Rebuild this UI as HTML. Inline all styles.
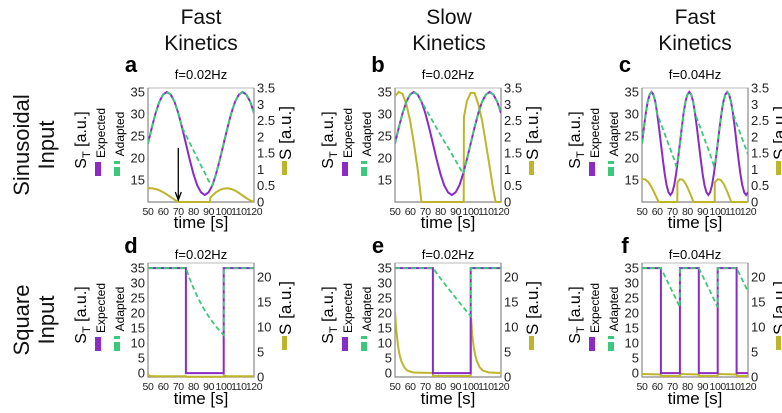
<!DOCTYPE html>
<html><head><meta charset="utf-8">
<style>
html,body{margin:0;padding:0;background:#fff;}
svg{display:block;font-family:"Liberation Sans",Arial,sans-serif;}
</style></head>
<body>
<svg id="fig" width="782" height="413" viewBox="0 0 782 413" xmlns="http://www.w3.org/2000/svg">
<g font-size="21" text-anchor="middle" fill="#111">
<text x="201" y="24">Fast</text>
<text x="201" y="50">Kinetics</text>
<text x="449" y="24">Slow</text>
<text x="449" y="50">Kinetics</text>
<text x="695" y="24">Fast</text>
<text x="695" y="50">Kinetics</text>
</g>
<g font-size="22" text-anchor="middle" fill="#111">
<text transform="translate(29,145) rotate(-90)">Sinusoidal</text>
<text transform="translate(54,145) rotate(-90)">Input</text>
<text transform="translate(29,320) rotate(-90)">Square</text>
<text transform="translate(54,320) rotate(-90)">Input</text>
</g>
</svg>
<script>
// ---- data ----
const panelLetters = ['a','b','c','d','e','f'];
const panelTitles = ['f=0.02Hz','f=0.02Hz','f=0.04Hz','f=0.02Hz','f=0.02Hz','f=0.04Hz'];
const xTicks = [50,60,70,80,90,100,110,120];
const leftTicksTop = [15,20,25,30,35];
const rightTicksTop = [0,0.5,1,1.5,2,2.5,3,3.5];
const leftTicksBottom = [0,5,10,15,20,25,30,35];
const rightTicksBottom = [0,5,10,15,20];

const tA = [50,52.5,55,57.5,60,62.5,65,67.5,70,72.5,75,77.5,80,82.5,85,87.5,90,92.5,95,97.5,100,102.5,105,107.5,110,112.5,115,117.5,120];
const expA = [23.3,26.9,30.2,32.8,34.4,35.0,34.4,32.8,30.2,26.9,23.3,19.7,16.4,13.8,12.2,11.6,12.2,13.8,16.4,19.7,23.3,26.9,30.2,32.8,34.4,35.0,34.4,32.8,30.2];
const adaA = [23.3,26.9,30.2,32.8,34.4,35.0,34.4,32.8,30.2,26.9,25.2,23.5,21.8,20.0,18.3,16.6,14.8,13.8,16.4,19.7,23.3,26.9,30.2,32.8,34.4,35.0,34.4,32.8,30.2];
const tSA = [50,52.5,55,57.5,60,62.5,65,67.5,70,91,91.1,92.5,95,97.5,100,102.5,105,107.5,110,112.5,115,117.5,120];
const sA = [0.42,0.42,0.40,0.36,0.30,0.23,0.15,0.07,0,0,0.12,0.2,0.3,0.37,0.41,0.42,0.4,0.35,0.28,0.2,0.12,0.05,0];

const expB = [23.3,26.9,30.2,32.8,34.4,35.0,34.4,32.8,30.2,26.9,23.3,19.7,16.4,13.8,12.2,11.6,12.2,13.8,16.4,19.7,23.3,26.9,30.2,32.8,34.4,35.0,34.4,32.8,30.2];
const adaB = [23.3,26.9,30.2,32.8,34.4,35.0,34.4,32.8,31.3,29.8,28.3,26.8,25.3,23.8,22.4,20.9,19.4,17.9,16.4,19.7,23.3,26.9,30.2,32.8,34.4,35.0,34.4,32.8,30.2];
const tSB = [50,52.5,55,57.5,60,62.5,65,67.5,95.4,95.5,97.5,100,102.5,105,107.5,110,112.5,115,116.5,120];
const sB = [3.25,3.38,3.32,3.0,2.5,1.8,1.0,0,0,2.6,3.1,3.35,3.35,3.0,2.5,1.8,1.1,0.35,0,0];

const tC = [50,51.25,52.5,53.75,55,56.25,57.5,58.75,60,61.25,62.5,63.75,65,66.25,67.5,68.75,70,71.25,72.5,73.75,75,76.25,77.5,78.75,80,81.25,82.5,83.75,85,86.25,87.5,88.75,90,91.25,92.5,93.75,95,96.25,97.5,98.75,100,101.25,102.5,103.75,105,106.25,107.5,108.75,110,111.25,112.5,113.75,115,116.25,117.5,118.75,120];
const expC = [23.3,26.9,30.2,32.8,34.4,35.0,34.4,32.8,30.2,26.9,23.3,19.7,16.4,13.8,12.2,11.6,12.2,13.8,16.4,19.7,
23.3,26.9,30.2,32.8,34.4,35.0,34.4,32.8,30.2,26.9,23.3,19.7,16.4,13.8,12.2,11.6,12.2,13.8,16.4,19.7,
23.3,26.9,30.2,32.8,34.4,35.0,34.4,32.8,30.2,26.9,23.3,19.7,16.4,13.8,12.2,11.6,12.2];
const adaC = [23.3,26.9,30.2,32.8,34.4,35.0,34.4,32.8,30.2,29.0,27.8,26.7,25.5,24.3,23.1,22.0,20.8,19.6,18.2,19.7,
23.3,26.9,30.2,32.8,34.4,35.0,34.4,32.8,30.2,29.0,27.8,26.7,25.5,24.3,23.1,22.0,20.8,19.6,18.2,19.7,
23.3,26.9,30.2,32.8,34.4,35.0,34.4,32.8,30.2,29.0,27.8,26.7,25.5,24.3,23.1,22.0,20.8];
const tSC = [50,52,54,56,58,60,61,73.3,73.4,75,77,79,81,83,84,98,98.1,100,102,104,106,108,109,120];
const sC = [0.7,0.7,0.62,0.48,0.3,0.1,0,0,0.6,0.7,0.68,0.55,0.35,0.12,0,0,0.6,0.7,0.68,0.55,0.35,0.12,0,0];

const tExpD = [50,75,75,100,100,120];
const expD = [35,35,0,0,35,35];
const tAdaD = [50,75,77.5,80,82.5,85,87.5,90,92.5,95,97.5,100,100,120];
const adaD = [35,35,31.5,28.4,25.6,23.1,20.9,18.9,17.1,15.5,14.0,12.7,35,35];
const tSD = [50,51,55,75,75.1,100,100.1,102,120];
const sD = [0.6,0.2,0.15,0.15,0.05,0.05,0.4,0.15,0.15];

const tExpE = [50,75,75,100,100,120];
const expE = [35,35,0,0,35,35];
const tAdaE = [50,75,80,85,90,95,100,100,120];
const adaE = [35,35,31.6,28.3,25.1,22.0,19.0,35,35];
const tSE = [50,51,52,53,54,56,58,62,75,75.1,100,100.1,101,102,103,104,106,108,112,120];
const sE = [13,9,6.3,4.5,3.3,2,1.3,0.9,0.8,0.2,0.2,12.5,8.5,6,4.3,3.2,1.9,1.3,0.9,0.8];

const tExpF = [50,62.5,62.5,75,75,87.5,87.5,100,100,112.5,112.5,120];
const expF = [35,35,0,0,35,35,0,0,35,35,0,0];
const tAdaF = [50,62.5,75,75,87.5,100,100,112.5,120];
const adaF = [35,35,22,35,35,22,35,35,27.2];
const tSF = [50,62.5,62.6,75,75.1,87.5,87.6,100,100.1,112.5,112.6,120];
const sF = [0.6,0.5,0.2,0.2,0.6,0.5,0.2,0.2,0.6,0.5,0.2,0.2];

// ---- layout ----
const NS = 'http://www.w3.org/2000/svg';
const svg = document.getElementById('fig');
const colLeft = [148,395,642];
const plotW = 106;
const rows = [
  {top:88,bottom:202,lmin:10,lmax:35.9,rmin:0,rmax:3.5,lt:leftTicksTop,rt:rightTicksTop,titleY:79,letterY:72,timeY:228},
  {top:263,bottom:377,lmin:-1.3,lmax:36.7,rmin:0,rmax:22.8,lt:leftTicksBottom,rt:rightTicksBottom,titleY:259,letterY:253,timeY:404}
];
const series = [
  {e:[tA,expA],a:[tA,adaA],s:[tSA,sA]},
  {e:[tA,expB],a:[tA,adaB],s:[tSB,sB]},
  {e:[tC,expC],a:[tC,adaC],s:[tSC,sC]},
  {e:[tExpD,expD],a:[tAdaD,adaD],s:[tSD,sD]},
  {e:[tExpE,expE],a:[tAdaE,adaE],s:[tSE,sE]},
  {e:[tExpF,expF],a:[tAdaF,adaF],s:[tSF,sF]}
];
function mk(tag, attrs, parent){const el=document.createElementNS(NS,tag);for(const k in attrs)el.setAttribute(k,attrs[k]);(parent||svg).appendChild(el);return el;}

for(let p=0;p<6;p++){
  const r = rows[Math.floor(p/3)], x0 = colLeft[p%3], x1 = x0+plotW;
  const g = mk('g',{});
  
  
  const xs = t => x0 + (t-50)/70*plotW;
  const yl = v => r.bottom - (v-r.lmin)/(r.lmax-r.lmin)*(r.bottom-r.top);
  const yr = v => r.bottom - (v-r.rmin)/(r.rmax-r.rmin)*(r.bottom-r.top);
  const cx = (x0+x1)/2;
  const fr = mk('rect',{x:x0,y:r.top,width:plotW,height:r.bottom-r.top,fill:'none',stroke:'#bbb','stroke-width':1},g);
  
  
  const lt = mk('text',{x:x0-17,y:r.letterY,'font-size':22,'font-weight':'bold','text-anchor':'middle'},g);
  lt.textContent = panelLetters[p];
  
  
  const ti = mk('text',{x:cx,y:r.titleY,'font-size':13,'text-anchor':'middle'},g);
  ti.textContent = panelTitles[p];
  
  
  xTicks.forEach(t=>{
    const tx = mk('text',{x:xs(t),y:r.bottom+13,'font-size':10.5,'letter-spacing':'-0.4','text-anchor':'middle',fill:'#222'},g);
    tx.textContent = t;
    
    
  });
  const xt = mk('text',{x:cx,y:r.timeY,'font-size':17,'text-anchor':'middle'},g);
  xt.textContent='time [s]';
  
  
  r.lt.forEach(v=>{
    const tx = mk('text',{x:x0-3,y:yl(v)+4.5,'font-size':13,'text-anchor':'end',fill:'#222'},g);
    tx.textContent=v;
    
    
  });
  r.rt.forEach(v=>{
    const tx = mk('text',{x:x1+3,y:yr(v)+4.5,'font-size':13,'text-anchor':'start',fill:'#222'},g);
    tx.textContent=v;
    
    
  });
  const al = mk('path',{d:`M${x0},${r.top}V${r.bottom}H${x1}V${r.top}`,fill:'none',stroke:'#888','stroke-width':1.2},g);
  
  
  const line=(arr,yf)=>arr[0].map((t,i)=>(i?'L':'M')+xs(t).toFixed(1)+','+yf(arr[1][i]).toFixed(1)).join('');
  const cp = mk('clipPath',{id:'cp'+p},g);
  mk('rect',{x:x0,y:r.top-1,width:plotW,height:r.bottom-r.top+2},cp);
  const s1 = mk('path',{d:line(series[p].s,yr),fill:'none',stroke:'#bdb62c','stroke-width':2,'clip-path':`url(#cp${p})`},g);
  
  
  const s2 = mk('path',{d:line(series[p].e,yl),fill:'none',stroke:'#8a2bc4','stroke-width':2,'clip-path':`url(#cp${p})`},g);
  
  
  const s3 = mk('path',{d:line(series[p].a,yl),fill:'none',stroke:'#3cc87a','stroke-width':1.8,'stroke-dasharray':'5,3','clip-path':`url(#cp${p})`},g);
  
  
  const mid = (r.top+r.bottom)/2;
  const stl = mk('text',{transform:`translate(${x0-62},${mid-5}) rotate(-90)`,'font-size':16,'text-anchor':'middle'},g);
  stl.innerHTML = 'S<tspan font-size="11" dy="4">T</tspan><tspan dy="-4"> [a.u.]</tspan>';
  
  
  const le = mk('text',{transform:`translate(${x0-43},${mid-12}) rotate(-90)`,'font-size':12,'text-anchor':'middle'},g);
  le.textContent='Expected';
  
  
  const lsw = mk('rect',{x:x0-53,y:mid+17,width:6,height:14,fill:'#8a2bc4'},g);
  
  
  const la = mk('text',{transform:`translate(${x0-24},${mid-11}) rotate(-90)`,'font-size':12,'text-anchor':'middle'},g);
  la.textContent='Adapted';
  
  
  const asw = mk('path',{d:`M${x0-31},${mid+16}V${mid+19}M${x0-31},${mid+22}V${mid+31}`,stroke:'#3cc87a','stroke-width':6},g);
  
  
  const sl = mk('text',{transform:`translate(${x1+37},${mid-12}) rotate(-90)`,'font-size':17,'text-anchor':'middle'},g);
  sl.textContent='S [a.u.]';
  
  
  const ssw = mk('rect',{x:x1+28,y:mid+16,width:5,height:14,fill:'#bdb62c'},g);
  
  
  if(p===0){
    const ar = mk('path',{d:`M${xs(70)},${r.top+60}V${r.bottom-3}M${xs(70)-3},${r.bottom-10}L${xs(70)},${r.bottom-2}L${xs(70)+3},${r.bottom-10}`,stroke:'#000','stroke-width':1.3,fill:'none'},g);
    
    
  }
}
</script>
</body></html>
